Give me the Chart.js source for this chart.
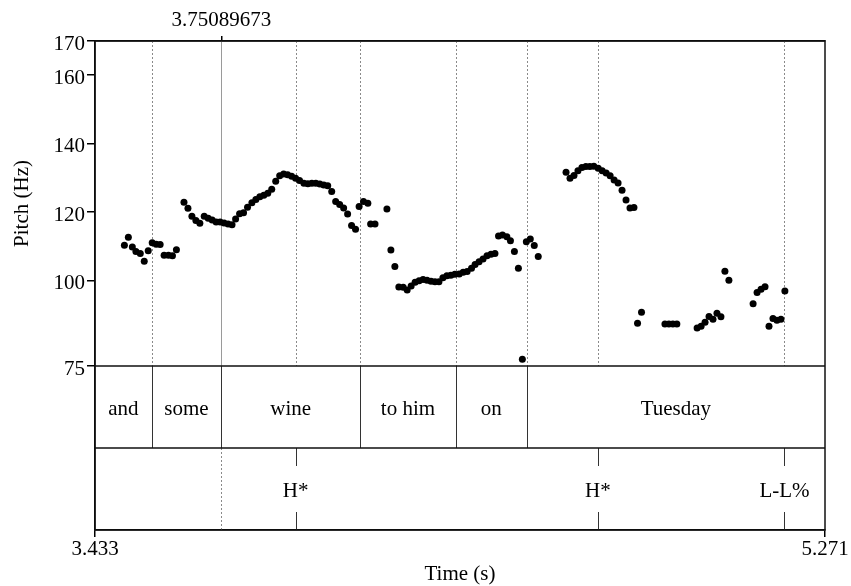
<!DOCTYPE html>
<html>
<head>
<meta charset="utf-8">
<script src="https://cdn.jsdelivr.net/npm/chart.js@4/dist/chart.umd.min.js"></script>
<style>
  html, body { margin: 0; padding: 0; background: #fff; }
</style>
</head>
<body>
<canvas id="pitchChart" width="851" height="586"></canvas>
<script>
// pitch track (s, Hz)
const pitchTime = [
    3.507, 3.517, 3.527, 3.536, 3.547, 3.557, 3.567, 3.577, 3.587, 3.597, 3.607, 3.618, 3.628, 3.638,
    3.657, 3.667, 3.677, 3.687, 3.697, 3.708, 3.718, 3.728, 3.738, 3.748, 3.758, 3.768, 3.778, 3.787,
    3.797, 3.807, 3.817, 3.828, 3.838, 3.848, 3.858, 3.868, 3.878, 3.888, 3.898, 3.908, 3.918, 3.928,
    3.938, 3.948, 3.959, 3.969, 3.979, 3.989, 3.999, 4.009, 4.019, 4.029, 4.039, 4.049, 4.059, 4.069,
    4.079, 4.089, 4.098, 4.109, 4.120, 4.127, 4.138, 4.168, 4.178, 4.188, 4.198, 4.209, 4.219, 4.229,
    4.239, 4.249, 4.259, 4.269, 4.279, 4.289, 4.299, 4.309, 4.319, 4.329, 4.339, 4.350, 4.360, 4.370,
    4.381, 4.390, 4.400, 4.410, 4.420, 4.430, 4.440, 4.449, 4.459, 4.470, 4.479, 4.489, 4.499, 4.509,
    4.519, 4.529, 4.539, 4.549,
    4.619, 4.629, 4.639, 4.649, 4.659, 4.669, 4.679, 4.689, 4.700, 4.710, 4.720, 4.730, 4.740, 4.750,
    4.760, 4.770, 4.780, 4.790, 4.799, 4.809, 4.868, 4.878, 4.888, 4.898, 4.949, 4.959, 4.969, 4.979,
    4.989, 4.999, 5.009, 5.019, 5.029, 5.090, 5.100, 5.110, 5.120, 5.130, 5.140, 5.150, 5.160, 5.170
];
const pitchHz = [
    110.3, 112.6, 109.8, 108.5, 107.9, 105.6, 108.7, 111.0, 110.6, 110.5, 107.4, 107.4, 107.2, 109.0,
    122.9, 121.1, 118.8, 117.5, 116.7, 118.8, 118.2, 117.7, 117.1, 117.1, 116.8, 116.5, 116.3, 118.0,
    119.5, 119.8, 121.4, 122.7, 123.7, 124.5, 124.9, 125.5, 126.7, 129.0, 130.6, 131.1, 130.9, 130.5,
    129.9, 129.2, 128.4, 128.3, 128.4, 128.4, 128.2, 127.9, 127.7, 126.0, 123.1, 122.2, 121.2, 119.4,
    116.1, 115.0, 121.6, 123.1, 122.6, 116.5, 116.5, 120.9, 108.9, 104.1, 98.1, 98.0, 97.2, 98.4,
    99.5, 99.9, 100.3, 100.1, 99.8, 99.6, 99.6, 100.8, 101.4, 101.5, 101.8, 101.9, 102.4, 102.6,
    103.6, 104.7, 105.5, 106.3, 107.2, 107.7, 107.9, 113.0, 113.3, 112.8, 111.6, 108.5, 103.6, 77.0,
    111.3, 112.1, 110.2, 107.0,
    131.6, 129.9, 130.7, 132.1, 133.0, 133.3, 133.3, 133.4, 132.8, 132.1, 131.4, 130.6, 129.4, 128.5,
    126.4, 123.5, 121.2, 121.3, 87.5, 90.7, 87.3, 87.3, 87.3, 87.3, 86.1, 86.6, 87.8, 89.5,
    88.7, 90.4, 89.4, 102.7, 100.1, 93.2, 96.5, 97.4, 98.2, 86.6, 88.9, 88.4, 88.7, 96.9
];

// axes
const timeTicks = [3.433, 5.271];
const pitchTicks = [75, 100, 120, 140, 160, 170];
const cursorTime = 3.75089673;

// text grid: words (intervals) and tones (points)
const wordLabels = ['and', 'some', 'wine', 'to him', 'on', 'Tuesday'];
const wordBounds = [3.433, 3.576, 3.75089673, 4.101, 4.341, 4.520, 5.271];
const toneTimes = [3.938, 4.699, 5.169];
const toneLabels = ['H*', 'H*', 'L-L%'];

const FONT = "'Liberation Serif', 'Times New Roman', serif";
const ink = '#000';
const baseFont = { family: FONT, size: 21, lineHeight: 1.1 };

// two tier rows sit under the pitch panel: 164px against 325px for 75..170 Hz
const pitchMin = 75 - (164 / 325) * (170 - 75);

const textGrid = {
    id: 'textGrid',
    beforeDatasetsDraw(chart) {
        const { ctx, chartArea: a, scales: { x, y } } = chart;
        const y75 = y.getPixelForValue(75);
        ctx.save();
        ctx.lineWidth = 1;
        // boundaries projected into the pitch panel
        const marks = wordBounds.slice(1, -1).concat(toneTimes);
        marks.forEach(t => {
            const px = Math.round(x.getPixelForValue(t)) + 0.5;
            const isCursor = Math.abs(t - cursorTime) < 1e-6;
            ctx.strokeStyle = isCursor ? '#9a9a9a' : '#8a8a8a';
            ctx.setLineDash(isCursor ? [] : [2, 2]);
            ctx.beginPath();
            ctx.moveTo(px, a.top);
            ctx.lineTo(px, y75);
            ctx.stroke();
        });
        ctx.restore();
    },
    afterDatasetsDraw(chart) {
        const { ctx, chartArea: a, scales: { x, y } } = chart;
        const y75 = y.getPixelForValue(75);
        const yMid = (y75 + a.bottom) / 2;
        ctx.save();

        // tier 1 boundaries
        ctx.strokeStyle = '#333';
        ctx.lineWidth = 1;
        wordBounds.slice(1, -1).forEach(t => {
            const px = Math.round(x.getPixelForValue(t)) + 0.5;
            ctx.beginPath();
            ctx.moveTo(px, y75);
            ctx.lineTo(px, yMid);
            ctx.stroke();
        });

        // cursor through tier 2
        const cx = Math.round(x.getPixelForValue(cursorTime)) + 0.5;
        ctx.strokeStyle = '#8a8a8a';
        ctx.setLineDash([2, 2]);
        ctx.beginPath();
        ctx.moveTo(cx, yMid);
        ctx.lineTo(cx, a.bottom);
        ctx.stroke();
        ctx.setLineDash([]);

        // tier 2 point marks
        ctx.strokeStyle = '#333';
        toneTimes.forEach(t => {
            const px = Math.round(x.getPixelForValue(t)) + 0.5;
            ctx.beginPath();
            ctx.moveTo(px, yMid);
            ctx.lineTo(px, yMid + 18);
            ctx.moveTo(px, a.bottom - 18);
            ctx.lineTo(px, a.bottom);
            ctx.stroke();
        });

        // labels
        ctx.fillStyle = ink;
        ctx.font = '21px ' + FONT;
        ctx.textAlign = 'center';
        ctx.textBaseline = 'middle';
        wordLabels.forEach((w, i) => {
            const mx = (x.getPixelForValue(wordBounds[i]) + x.getPixelForValue(wordBounds[i + 1])) / 2;
            ctx.fillText(w, mx, (y75 + yMid) / 2 + 2);
        });
        toneLabels.forEach((w, i) => {
            ctx.fillText(w, x.getPixelForValue(toneTimes[i]), (yMid + a.bottom) / 2 + 2);
        });

        // frame and tier rules
        ctx.strokeStyle = '#111';
        ctx.lineWidth = 1.5;
        ctx.strokeRect(a.left, a.top, a.right - a.left, a.bottom - a.top);
        ctx.beginPath();
        ctx.moveTo(a.left, y75);
        ctx.lineTo(a.right, y75);
        ctx.moveTo(a.left, yMid);
        ctx.lineTo(a.right, yMid);
        ctx.stroke();

        // y title, centred on the pitch panel only
        ctx.translate(22, (a.top + y75) / 2);
        ctx.rotate(-Math.PI / 2);
        ctx.fillText('Pitch (Hz)', 0, 0);
        ctx.restore();
    }
};

new Chart(document.getElementById('pitchChart'), {
    type: 'scatter',
    data: {
        datasets: [{
            data: pitchTime.map((t, i) => ({ x: t, y: pitchHz[i] })),
            backgroundColor: ink,
            borderWidth: 0,
            pointRadius: 3.5,
            pointHoverRadius: 3.5
        }]
    },
    options: {
        responsive: false,
        animation: false,
        layout: { padding: { left: 0, right: 26, top: 0, bottom: 0 } },
        plugins: { legend: { display: false }, tooltip: { enabled: false } },
        scales: {
            x: {
                type: 'linear',
                position: 'bottom',
                min: timeTicks[0],
                max: timeTicks[1],
                afterBuildTicks: s => { s.ticks = timeTicks.map(v => ({ value: v })); },
                afterFit: s => { s.height = 56; },
                ticks: {
                    color: ink, font: baseFont, padding: 1,
                    maxRotation: 0, autoSkip: false,
                    callback: v => v.toFixed(3)
                },
                grid: { drawOnChartArea: false, tickLength: 7, color: ink, lineWidth: 1.5 },
                border: { display: true, color: ink, width: 1.5 },
                title: { display: true, text: 'Time (s)', color: ink, font: baseFont, padding: { top: 0, bottom: 0 } }
            },
            xTop: {
                type: 'linear',
                position: 'top',
                min: timeTicks[0],
                max: timeTicks[1],
                afterBuildTicks: s => { s.ticks = [{ value: cursorTime }]; },
                afterFit: s => { s.height = 41; },
                ticks: {
                    color: ink, font: baseFont, padding: 4,
                    maxRotation: 0, autoSkip: false,
                    callback: () => String(cursorTime)
                },
                grid: { drawOnChartArea: false, tickLength: 5, color: ink, lineWidth: 1.5 },
                border: { display: true, color: ink, width: 1.5 }
            },
            y: {
                type: 'linear',
                min: pitchMin,
                max: 170,
                afterBuildTicks: s => { s.ticks = pitchTicks.map(v => ({ value: v })); },
                afterFit: s => { s.width = 95; },
                ticks: { color: ink, font: baseFont, padding: 2, labelOffset: 3 },
                grid: { drawOnChartArea: false, tickLength: 8, color: ink, lineWidth: 1.5 },
                border: { display: true, color: ink, width: 1.5 }
            }
        }
    },
    plugins: [textGrid]
});
</script>
</body>
</html>
